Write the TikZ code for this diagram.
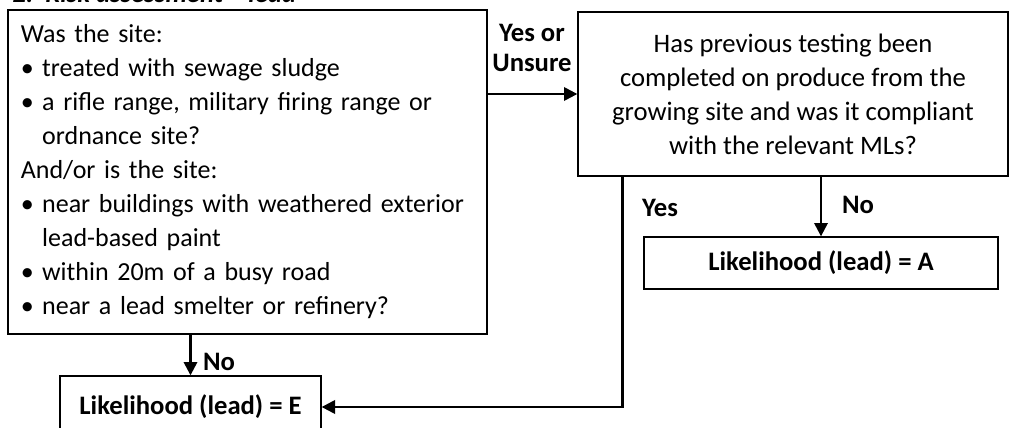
\documentclass[tikz,border=0pt]{standalone}
\usepackage{fontspec}
\setmainfont{Carlito}
\usetikzlibrary{arrows.meta}

\newcommand{\bulitem}[1]{\par\hangindent=16pt\hangafter=1\makebox[16pt][l]{\textbullet}#1}

\tikzset{
  qbox/.style={draw, line width=1pt, inner sep=0pt, font=\fontsize{20}{25.5}\selectfont},
  resbox/.style={draw, line width=1pt, inner sep=0pt, font=\bfseries\fontsize{20}{24}\selectfont},
  flow/.style={line width=1.8pt, -{Triangle[length=10pt,width=10pt]}},
  lbl/.style={font=\bfseries\fontsize{20}{22.5}\selectfont, align=center}
}

\begin{document}
\begin{tikzpicture}[x=0.75pt, y=-0.75pt]
        \useasboundingbox (0,0) rectangle (1011,428);
        \clip (0,0) rectangle (1011,428);
        \node [anchor=base west, font=\bfseries\itshape\fontsize{20}{24}\selectfont] (title) at (8,3) {2.\ \ Risk assessment -- lead};
        % question boxes
        \node [qbox, minimum width=359.25pt, minimum height=243pt, text width=340pt,
               font=\fontsize{19.5}{25.5}\selectfont] (site) at (247.5,172)
            {\raggedright\setlength{\parindent}{0pt}\hyphenpenalty=10000 Was the site:
             \bulitem{treated with sewage sludge}
             \bulitem{a rifle range, military firing range or\newline ordnance site?}
             \par And/or is the site:
             \bulitem{near buildings with weathered exterior\newline lead-based paint}
             \bulitem{within 20m of a busy road}
             \bulitem{near a lead smelter or refinery?}\par};
        \node [qbox, minimum width=322.5pt, minimum height=123pt, align=center] (test) at (793,94)
            {Has previous testing been\\completed on produce from the\\growing site and was it compliant\\with the relevant MLs?};
        % results
        \node [resbox, minimum width=265.5pt, minimum height=39pt] (likeA) at (821,263) {Likelihood (lead) = A};
        \node [resbox, minimum width=195.75pt, minimum height=46.5pt] (likeE) at (190.5,407) {Likelihood (lead) = E};
        % connectors
        \draw [flow] (site.east |- test.west) -- (test.west);
        \draw [flow] (test.south -| likeA.north) -- (likeA.north);
        \draw [flow] (site.south -| likeE.north) -- (likeE.north);
        \draw [flow] ([xshift=33.75pt]test.south west) |- (likeE.east);
        % labels
        \node [lbl] (yesunsure) at (532,48) {Yes or\\Unsure};
        \node [lbl] (noA) at (858,205) {No};
        \node [lbl] (yesE) at (660,208) {Yes};
        \node [lbl] (noE) at (219,362) {No};
    \end{tikzpicture}
\end{document}
